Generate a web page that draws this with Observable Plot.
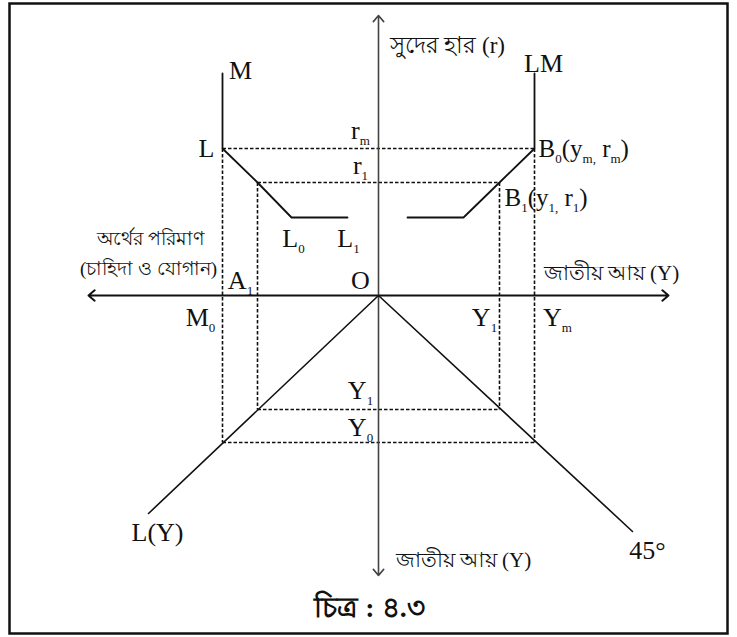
<!DOCTYPE html>
<html><head><meta charset="utf-8">
<script src="https://cdn.jsdelivr.net/npm/d3@7"></script>
<script src="https://cdn.jsdelivr.net/npm/@observablehq/plot@0.6"></script>
<style>body{margin:0;background:#fff} #chart svg{display:block}</style>
</head><body><div id="chart"></div>
<script>
// Diagram units: origin at O, x to the right, y upward.
// Left quadrant money curve (M - L - L0 - L1)
const mCurveX = [-156, -156, -121, -87, -31];
const mCurveY = [222, 147, 113, 78, 78];
// LM curve (LM - B0 - B1 - kink)
const lmCurveX = [156, 156, 121, 85, 29];
const lmCurveY = [222, 147, 113, 78, 78];
// L(Y) line and 45° line from O
const lyX = [0, -230], lyY = [0, -218];
const degX = [0, 254], degY = [0, -236];
// Dashed guide lines
const guideX1 = [-156, -121, -156, -121, 121, 156, -121, -156];
const guideY1 = [147, 113, 147, 113, 113, 147, -114, -147];
const guideX2 = [156, 121, -156, -121, 121, 156, 121, 156];
const guideY2 = [147, 113, -147, -114, -114, -147, -114, -147];
// Axes (arrows out from O)
const axisX2 = [-290, 290, 0, 0];
const axisY2 = [0, 0, 280, -280];
// Labels
const latinText = ["M", "L", "r_{m}", "r_{1}", "LM", "L_{0}", "L_{1}", "A_{1}", "O", "M_{0}", "Y_{1}", "Y_{m}", "Y_{1}", "Y_{0}", "L(Y)", "45°"];
const latinX = [-138, -172, -18, -18, 165, -85, -30, -138, -18, -178, 106, 179, -18, -18, -221, 269];
const latinY = [225, 147, 165, 130, 232, 57, 57, 15, 15, -22, -22, -22, -95, -132, -237, -255];
const pointText = ["B_{0}(y_{m,} r_{m})", "B_{1}(y_{1,} r_{1})"];
const pointX = [160, 126];
const pointY = [147, 98];
const bnStartText = ["সুদের হার (r)", "জাতীয় আয় (Y)", "জাতীয় আয় (Y)"];
const bnStartX = [11, 165, 17];
const bnStartY = [250, 22, -265];
const bnMidText = ["অর্থের পরিমাণ", "(চাহিদা ও যোগান)"];
const bnMidX = [-228, -230];
const bnMidY = [57, 27];
const captionText = ["চিত্র : ৪.৩"];
const captionX = [-9], captionY = [-313];

const idx = a => a.map((_, i) => i);
const serif = "'Liberation Serif', 'Times New Roman', serif";

const plot = Plot.plot({
  width: 737, height: 637,
  marginLeft: 9, marginRight: 10, marginTop: 3, marginBottom: 4,
  x: {domain: [-369, 349], axis: null},
  y: {domain: [-338, 292], axis: null},
  style: {background: "#fff"},
  marks: [
    Plot.frame({stroke: "#111", strokeWidth: 2.5}),
    Plot.link(idx(guideX1), {x1: i => guideX1[i], y1: i => guideY1[i], x2: i => guideX2[i], y2: i => guideY2[i],
      stroke: "#111", strokeWidth: 1.6, strokeDasharray: "3.5,2"}),
    Plot.arrow(idx(axisX2), {x1: 0, y1: 0, x2: i => axisX2[i], y2: i => axisY2[i],
      stroke: i => i < 2 ? "#111" : "#444", strokeWidth: i => i < 2 ? 2 : 1.6, headLength: 12, headAngle: 80}),
    Plot.line(idx(mCurveX), {x: i => mCurveX[i], y: i => mCurveY[i], stroke: "#111", strokeWidth: 1.8}),
    Plot.line(idx(lmCurveX), {x: i => lmCurveX[i], y: i => lmCurveY[i], stroke: "#111", strokeWidth: 1.8}),
    Plot.line(idx(lyX), {x: i => lyX[i], y: i => lyY[i], stroke: "#111", strokeWidth: 1.6}),
    Plot.line(idx(degX), {x: i => degX[i], y: i => degY[i], stroke: "#111", strokeWidth: 1.6}),
    Plot.text(latinText, {x: (d, i) => latinX[i], y: (d, i) => latinY[i], text: d => d,
      fontFamily: serif, fontSize: 26, fill: "#111"}),
    Plot.text(pointText, {x: (d, i) => pointX[i], y: (d, i) => pointY[i], text: d => d,
      textAnchor: "start", fontFamily: serif, fontSize: 25, fill: "#111"}),
    Plot.text(bnStartText, {x: (d, i) => bnStartX[i], y: (d, i) => bnStartY[i], text: d => d,
      textAnchor: "start", fontFamily: serif, fontSize: (d, i) => i === 0 ? 23 : 21, fill: "#111"}),
    Plot.text(bnMidText, {x: (d, i) => bnMidX[i], y: (d, i) => bnMidY[i], text: d => d,
      fontFamily: serif, fontSize: 19, fill: "#111"}),
    Plot.text(captionText, {x: (d, i) => captionX[i], y: (d, i) => captionY[i], text: d => d,
      fontFamily: serif, fontSize: 28, fontWeight: "bold", fill: "#111"})
  ]
});

// Render "_{...}" as subscripts
const NS = "http://www.w3.org/2000/svg";
plot.querySelectorAll("text").forEach(t => {
  const s = t.textContent;
  if (!s.includes("_{")) return;
  t.textContent = "";
  const parts = s.split(/(_\{[^}]*\})/).filter(p => p);
  let shifted = false;
  for (const p of parts) {
    const ts = document.createElementNS(NS, "tspan");
    if (p.startsWith("_{")) {
      ts.textContent = p.slice(2, -1);
      ts.setAttribute("font-size", "13");
      if (!shifted) { ts.setAttribute("dy", "6"); shifted = true; }
    } else {
      ts.textContent = p;
      if (shifted) { ts.setAttribute("dy", "-6"); shifted = false; }
    }
    t.appendChild(ts);
  }
});
document.getElementById("chart").appendChild(plot);
</script></body></html>
